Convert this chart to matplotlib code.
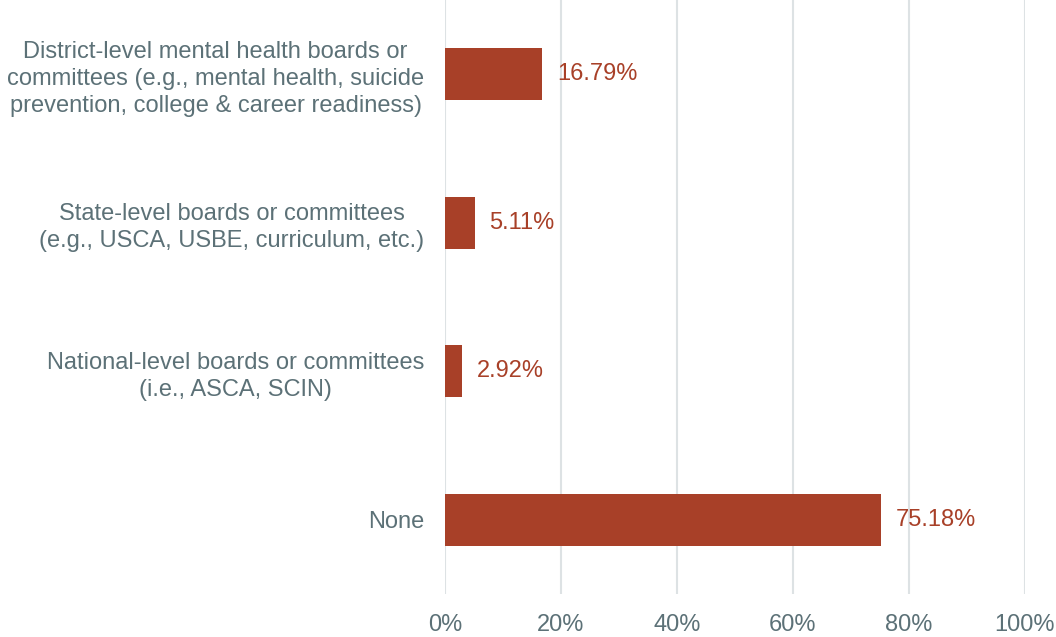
import matplotlib
matplotlib.use("Agg")
import matplotlib.pyplot as plt

categories = [
    "District-level mental health boards or\ncommittees (e.g., mental health, suicide\nprevention, college & career readiness)",
    "State-level boards or committees\n(e.g., USCA, USBE, curriculum, etc.)",
    "National-level boards or committees\n(i.e., ASCA, SCIN)",
    "None",
]
values = [16.79, 5.11, 2.92, 75.18]
xticks = [0, 20, 40, 60, 80, 100]
xtick_labels = ["0%", "20%", "40%", "60%", "80%", "100%"]

plt.rcParams['font.family'] = ['Liberation Sans', 'DejaVu Sans']
bar_color = "#A84028"
text_color = "#5C7177"
grid_color = "#DDE2E4"

fig = plt.figure(figsize=(10.56, 6.37), dpi=100)
ax = fig.add_axes([445/1056, 1 - 594/637, 580/1056, 594/637])

y = list(range(len(categories)))
ax.barh(y, values, height=0.35, color=bar_color, zorder=3)
for yi, v in zip(y, values):
    ax.text(v + 2.5, yi, f"{v:.2f}%", va="center", ha="left", fontsize=17, color=bar_color)

ax.set_xlim(0, 100)
ax.set_ylim(len(categories) - 0.5, -0.5)
ax.set_xticks(xticks)
ax.set_xticklabels(xtick_labels)
ax.set_yticks(y)
ax.set_yticklabels(categories, multialignment="center", linespacing=1.3)
ax.tick_params(axis="both", length=0, labelsize=17, labelcolor=text_color)
ax.tick_params(axis="x", pad=14.5)
ax.tick_params(axis="y", pad=15)
ax.xaxis.grid(True, color=grid_color, linewidth=1.5, zorder=0)
for s in ax.spines.values():
    s.set_visible(False)

fig.savefig("out.png", dpi=100)
